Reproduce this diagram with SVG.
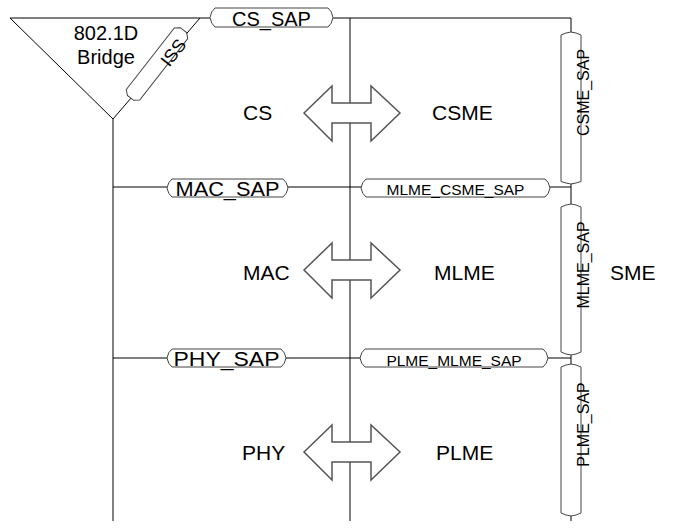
<svg xmlns="http://www.w3.org/2000/svg" width="686" height="529" viewBox="0 0 686 529">
<style>
.ln{stroke:#000;stroke-width:1;fill:none}
.box{fill:#fff;stroke:#444;stroke-width:1}
.arr{fill:#fff;stroke:#555;stroke-width:1.5;stroke-linejoin:miter}
text{font-family:"Liberation Sans",Arial,sans-serif;fill:#000}
.big{font-size:21px}
.sap{font-size:20px}
.sap2{font-size:15.5px}
.vs{font-size:16px}
</style>
<rect width="686" height="529" fill="#fff"/>
<g id="connectors">
<path class="ln" d="M200,18 H210 M333,18 H571 V32 M571,184 V204 M571,355 V364 M571,516 V521"/>
<path class="ln" d="M350,18 V521"/>
<path class="ln" d="M113,119 V521"/>
<path class="ln" d="M113,187 H167 M288,187 H361 M550,187 H571"/>
<path class="ln" d="M113,358 H167 M286,358 H360 M548,358 H571"/>
</g>
<g id="bridge">
<polygon class="ln" points="10,18 200,18 113,119"/>
<text x="106" y="40" text-anchor="middle" font-size="20">802.1D</text>
<text x="106" y="64" text-anchor="middle" font-size="20">Bridge</text>
</g>
<g id="iss" transform="translate(157,64) rotate(-52)">
<path class="box" d="M-39,-8.5 H39 L43,-4 V4 L39,8.5 H-39 L-43,4 V-4 Z"/>
<text x="19" y="12" text-anchor="middle" font-size="18">ISS</text>
</g>
<g id="cs_sap">
<path class="box" d="M215,8 H328 Q332,11 333,17.5 Q332,24 328,27 H215 Q211,24 210,17.5 Q211,11 215,8 Z"/>
<text class="sap" x="271.5" y="26" text-anchor="middle">CS_SAP</text>
</g>
<g id="mac_sap">
<path class="box" d="M172,179 H283 Q287,182 288,188 Q287,194 283,197 H172 Q168,194 167,188 Q168,182 172,179 Z"/>
<text x="227.5" y="196" text-anchor="middle" font-size="20" textLength="104" lengthAdjust="spacingAndGlyphs">MAC_SAP</text>
</g>
<g id="mlme_csme_sap">
<path class="box" d="M366,179 H545 Q549,182 550,188 Q549,194 545,197 H366 Q362,194 361,188 Q362,182 366,179 Z"/>
<text class="sap2" x="455.5" y="194.5" text-anchor="middle">MLME_CSME_SAP</text>
</g>
<g id="phy_sap">
<path class="box" d="M172,349 H281 Q285,352 286,358 Q285,364 281,367 H172 Q168,364 167,358 Q168,352 172,349 Z"/>
<text x="226.5" y="366" text-anchor="middle" font-size="20" textLength="106" lengthAdjust="spacingAndGlyphs">PHY_SAP</text>
</g>
<g id="plme_mlme_sap">
<path class="box" d="M365,349 H543 Q547,352 548,358 Q547,364 543,367 H365 Q361,364 360,358 Q361,352 365,349 Z"/>
<text class="sap2" x="454" y="365.5" text-anchor="middle">PLME_MLME_SAP</text>
</g>
<g id="csme_sap">
<path class="box" d="M561,35 L566,33 L571,32 L576,33 L581,35 V181.5 L576,183 L571,184 L566,183 L561,181.5 Z"/>
<text class="vs" transform="translate(589,92.5) rotate(-90)" text-anchor="middle">CSME_SAP</text>
</g>
<g id="mlme_sap">
<path class="box" d="M561,207 L566,205 L571,204 L576,205 L581,207 V352 L576,354 L571,355 L566,354 L561,352 Z"/>
<text class="vs" transform="translate(589,265) rotate(-90)" text-anchor="middle">MLME_SAP</text>
</g>
<g id="plme_sap">
<path class="box" d="M561,367 L566,365 L571,364 L576,365 L581,367 V513 L576,515 L571,516 L566,515 L561,513 Z"/>
<text class="vs" transform="translate(589,424.5) rotate(-90)" text-anchor="middle">PLME_SAP</text>
</g>
<g id="arrow_cs">
<polygon class="arr" points="304,113 332,86 332,103 371,103 371,86 400,113 371,141 371,123 332,123 332,141"/>
</g>
<g id="arrow_mac">
<polygon class="arr" points="304,270 332,243 332,260 371,260 371,243 400,270 371,298 371,280 332,280 332,298"/>
</g>
<g id="arrow_phy">
<polygon class="arr" points="304,452 332,425 332,442 371,442 371,425 400,452 371,480 371,462 332,462 332,480"/>
</g>
<g id="cs"><text class="big" x="243" y="120">CS</text></g>
<g id="csme"><text class="big" x="432" y="120">CSME</text></g>
<g id="mac"><text class="big" x="243" y="280">MAC</text></g>
<g id="mlme"><text class="big" x="434" y="280">MLME</text></g>
<g id="phy"><text class="big" x="242" y="460">PHY</text></g>
<g id="plme"><text class="big" x="436" y="460">PLME</text></g>
<g id="sme"><text class="big" x="610" y="280">SME</text></g>
</svg>
